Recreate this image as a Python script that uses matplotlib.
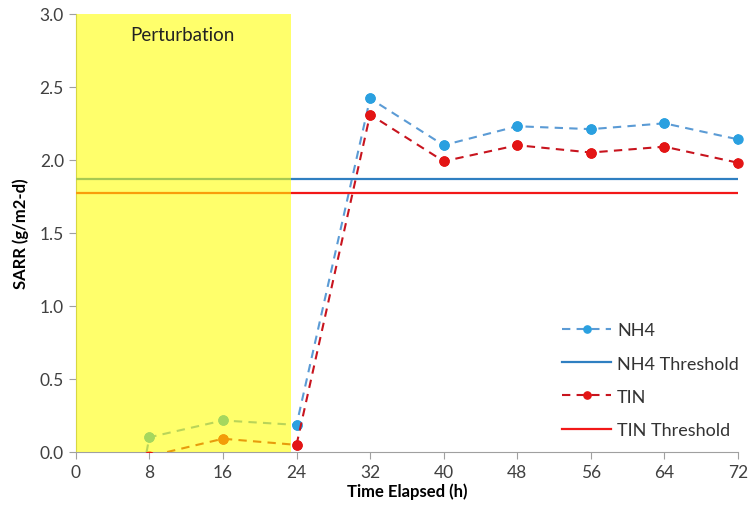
import numpy as np
import matplotlib
matplotlib.use("Agg")
import matplotlib.pyplot as plt

plt.rcParams['font.family'] = ['Lato', 'DejaVu Sans']

# data
hours = [0, 8, 16, 24, 32, 40, 48, 56, 64, 72]
nh4 = [-2.6, 0.10, 0.215, 0.185, 2.42, 2.10, 2.23, 2.21, 2.25, 2.14]
tin = [-2.8, -0.03, 0.09, 0.048, 2.31, 1.99, 2.10, 2.05, 2.09, 1.98]
nh4_threshold = 1.87
tin_threshold = 1.775
perturb_end = 23.4
x_ticks = list(range(0, 73, 8))
y_ticks = [0.0, 0.5, 1.0, 1.5, 2.0, 2.5, 3.0]

fig = plt.figure(figsize=(7.5, 5.1), dpi=100)
ax = fig.add_axes([0.101, 0.112, 0.883, 0.859])

series = [
    (nh4, 'NH4', '#5B9BD5', '#2AA0E0'),
    (tin, 'TIN', '#C8141E', '#E31515'),
]
thresholds = [
    (nh4_threshold, 'NH4 Threshold', '#2F7FC1'),
    (tin_threshold, 'TIN Threshold', '#F21818'),
]

for (vals, name, lc, mc), (thr, tname, tc) in zip(series, thresholds):
    ax.plot(hours, vals, linestyle=(0, (4, 3)), color=lc, lw=1.5,
            marker='o', markersize=6.5, markerfacecolor=mc,
            markeredgecolor=mc, label=name, zorder=3)
    # visible markers are not cut at the axes edge
    hx = [h for h, v in zip(hours, vals) if v >= 0]
    hv = [v for v in vals if v >= 0]
    ax.plot(hx, hv, linestyle='none', marker='o', markersize=6.5,
            markerfacecolor=mc, markeredgecolor=mc, clip_on=False, zorder=3)
    ax.plot([0, 72], [thr] * 2, color=tc, lw=1.6, label=tname, zorder=3)

# yellow perturbation window drawn over the lines
ax.axvspan(0, perturb_end, color='#FFFF00', alpha=0.58, lw=0, zorder=4)
ax.text(11.6, 2.86, 'Perturbation', ha='center', va='center', fontsize=13.5,
        color='#222222', zorder=5)

ax.set_xlim(0, 72)
ax.set_ylim(0, 3.0)
ax.set_xticks(x_ticks)
ax.set_yticks(y_ticks)
ax.set_yticklabels([f'{v:.1f}' for v in y_ticks])
ax.tick_params(labelsize=12.5, colors='#404040', length=5, direction='out',
               color='#A0A0A0')
ax.set_xlabel('Time Elapsed (h)', fontsize=12, fontweight='bold', labelpad=2)
ax.set_ylabel('SARR (g/m2-d)', fontsize=12, fontweight='bold', labelpad=8)

for s in ['top', 'right']:
    ax.spines[s].set_visible(False)
for s in ['left', 'bottom']:
    ax.spines[s].set_color('#A0A0A0')

leg = ax.legend(loc='lower right', bbox_to_anchor=(1.026, -0.005), frameon=False,
                fontsize=13, handlelength=2.7, labelspacing=0.95,
                handletextpad=0.35, markerscale=0.8)
for t in leg.get_texts():
    t.set_color('#333333')

fig.savefig('out.png', dpi=100)
